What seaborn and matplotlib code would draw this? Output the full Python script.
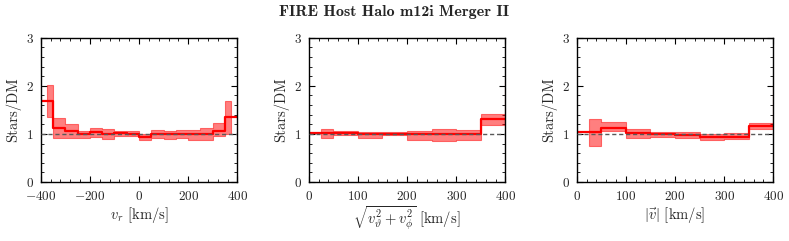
import numpy as np
import pandas as pd
import seaborn as sns
import matplotlib
matplotlib.use('Agg')
import matplotlib.pyplot as plt
from matplotlib.ticker import MultipleLocator

# ---- data (ratio of stars to DM per 50 km/s bin) ----
vr_edges = np.arange(-400, 401, 50)
vr_ratio = [1.69, 1.12, 1.07, 0.99, 1.04, 1.00, 1.02, 1.00,
            0.94, 1.00, 1.00, 1.00, 0.99, 1.00, 1.06, 1.35]
vr_lo = [1.36, 0.91, 0.92, 0.91, 0.93, 0.89, 0.95, 0.95,
         0.88, 0.91, 0.90, 0.91, 0.87, 0.88, 0.95, 1.00]
vr_hi = [2.02, 1.33, 1.20, 1.07, 1.13, 1.10, 1.06, 1.05,
         0.99, 1.08, 1.06, 1.09, 1.09, 1.13, 1.23, 1.68]

# tangential speed; last bin (400-450) lies beyond the axis limit
vt_edges = np.arange(0, 451, 50)
vt_ratio = [1.02, 1.02, 0.99, 1.00, 0.99, 0.99, 0.99, 1.31, 1.70]
vt_lo = [0.92, 0.97, 0.92, 0.97, 0.88, 0.86, 0.88, 1.19, 1.30]
vt_hi = [1.11, 1.06, 1.04, 1.03, 1.05, 1.11, 1.09, 1.42, 2.11]

# total speed
v_edges = np.arange(0, 451, 50)
v_ratio = [1.03, 1.13, 1.02, 0.99, 0.97, 0.93, 0.94, 1.17, 1.60]
v_lo = [0.74, 1.06, 0.92, 0.94, 0.92, 0.88, 0.89, 1.10, 1.20]
v_hi = [1.32, 1.24, 1.10, 1.04, 1.03, 1.00, 1.01, 1.23, 2.00]

sns.set_style('ticks')
plt.rcParams['font.family'] = ['cmr10', 'DejaVu Serif']
plt.rcParams['mathtext.fontset'] = 'cm'
plt.rcParams['axes.formatter.use_mathtext'] = True
plt.rcParams['axes.unicode_minus'] = True

fig = plt.figure(figsize=(7.89, 2.41), dpi=100)
lefts = [0.0516, 0.3913, 0.7309]
axes = [fig.add_axes([l, 0.2448, 0.2492, 0.5988]) for l in lefts]

panels = [
    (vr_edges, vr_ratio, vr_lo, vr_hi, (-400, 400), 200, 40, r'$v_r$ [km/s]'),
    (vt_edges, vt_ratio, vt_lo, vt_hi, (0, 400), 100, 20,
     r'$\sqrt{v_\vartheta^2 + v_\phi^2}$ [km/s]'),
    (v_edges, v_ratio, v_lo, v_hi, (0, 400), 100, 20, r'$|\vec{v}|$ [km/s]'),
]

for ax, (edges, ratio, lo, hi, xlim, major, minor, xlabel) in zip(axes, panels):
    centers = 0.5 * (edges[:-1] + edges[1:])
    # band
    ax.fill_between(centers, lo, hi, step='mid', color='red', alpha=0.5,
                    lw=0.8, zorder=1)
    # step line over the bins inside the plotted range
    keep = edges[1:] <= xlim[1]
    e = edges[:len(ratio) + 1][np.r_[True, keep]]
    r = np.array(ratio)[keep]
    df = pd.DataFrame({'x': e, 'y': np.r_[r, r[-1]]})
    sns.lineplot(data=df, x='x', y='y', ax=ax, color='red', lw=1.6,
                 drawstyle='steps-post', zorder=2)
    ax.axhline(1, ls=(0, (3, 2)), color='0.35', lw=1.0, zorder=3)

    ax.set_xlim(*xlim)
    ax.set_ylim(0, 3)
    ax.xaxis.set_major_locator(MultipleLocator(major))
    ax.xaxis.set_minor_locator(MultipleLocator(minor))
    ax.yaxis.set_major_locator(MultipleLocator(1))
    ax.yaxis.set_minor_locator(MultipleLocator(0.2))
    ax.tick_params(which='both', direction='in', top=True, right=True,
                   labelsize=9.5, color='black')
    ax.tick_params(axis='x', which='major', pad=6)
    ax.tick_params(axis='y', which='major', pad=5)
    ax.tick_params(which='major', length=4, width=0.8)
    ax.tick_params(which='minor', length=2, width=0.6)
    for s in ax.spines.values():
        s.set_color('black')
        s.set_linewidth(1.0)
    ax.set_xlabel(xlabel, fontsize=10.5, labelpad=1)
    ax.set_ylabel('Stars/DM', fontsize=10.5, labelpad=3)

fig.text(0.5, 0.95, 'FIRE Host Halo m12i Merger II', ha='center', va='center',
         fontsize=11.5, family=['cmb10', 'DejaVu Serif'])

fig.savefig('out.png', dpi=100)
